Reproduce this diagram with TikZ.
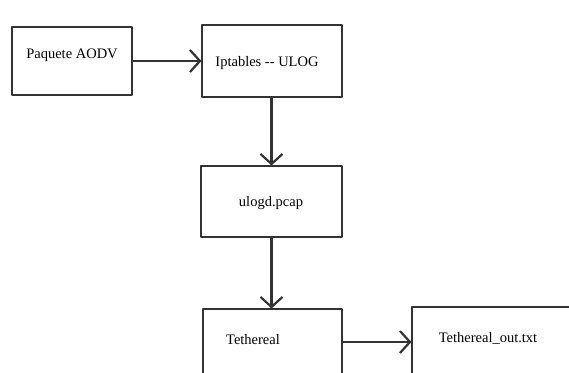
\documentclass[tikz,border=0pt]{standalone}
\usepackage{fontspec}
\setmainfont{Liberation Serif}
\usetikzlibrary{arrows.meta}
\tikzset{
  box/.style={draw=black!80, line width=1.1pt, inner sep=0pt},
  flow/.style={draw=black!80, line width=2.3pt, -{Straight Barb[length=10pt,width=22pt,line width=2.2pt]}},
  lbl/.style={font=\fontsize{14.5}{17}\selectfont, inner sep=0pt}
}
\begin{document}
\begin{tikzpicture}[x=1pt,y=-1pt,line cap=round,line join=round]
        \useasboundingbox (0,0) rectangle (569,372);
        \clip (0,0) rectangle (569,372);
        % boxes
        \node[box, minimum width=120pt, minimum height=68pt] (aodv) at (72,61) {};
        \node[box, minimum width=140pt, minimum height=72pt] (ulog) at (272,61) {};
        \node[box, minimum width=141pt, minimum height=71pt] (pcap) at (271.5,201.5) {};
        \node[box, minimum width=139pt, minimum height=72pt] (teth) at (272.5,345) {};
        \node[box, minimum width=170pt, minimum height=72pt] (out) at (497,343) {};

        % texts
        \node[lbl] (aodvtxt) at (72,55) {Paquete AODV};
        \node[lbl] (ulogtxt) at (267,63) {Iptables {-}{-} ULOG};
        \node[lbl] (pcaptxt) at (271,203) {ulogd.pcap};
        \node[lbl] (tethtxt) at (253,340) {Tethereal};
        \node[lbl] (outtxt) at (488,338) {Tethereal\_out.txt};

        % arrows
        \draw[flow] (aodv.east) -- (ulog.west |- aodv.east);
        \draw[flow] (ulog.south -| pcap.north) -- (pcap.north);
        \draw[flow] (pcap.south) -- (pcap.south |- teth.north);
        \draw[flow] (teth.east |- 0,342) -- (out.west |- 0,342);
\end{tikzpicture}
\end{document}
